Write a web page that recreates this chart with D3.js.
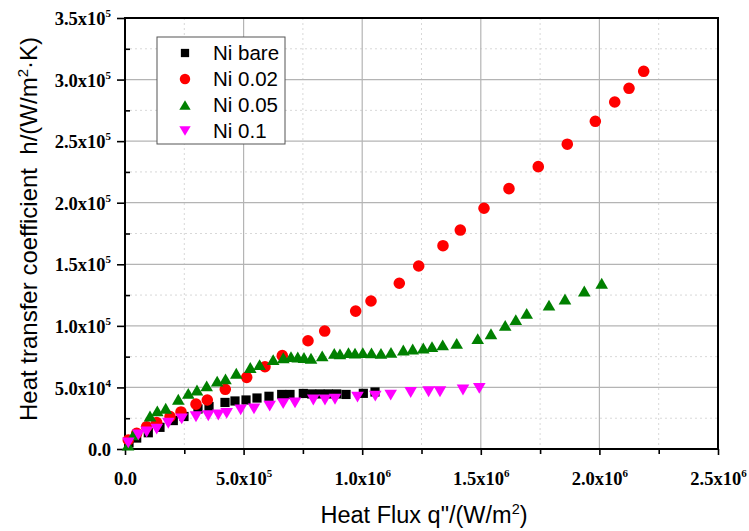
<!DOCTYPE html>
<html><head><meta charset="utf-8">
<script src="https://cdn.jsdelivr.net/npm/d3@7"></script>
<style>body{margin:0;background:#fff}</style>
</head><body>
<svg id="c" width="749" height="531"></svg>
<script>
const seriesNames = ["Ni bare", "Ni 0.02", "Ni 0.05", "Ni 0.1"];
const seriesColors = ["#000000", "#ff0000", "#008000", "#ff00ff"];

const qNiBare = [1.69e4,4.93e4,9.82e4,1.475e5,2.036e5,2.487e5,3.077e5,3.542e5,4.216e5,4.637e5,5.102e5,5.565e5,6.07e5,6.606e5,6.956e5,7.517e5,7.871e5,8.221e5,8.571e5,8.925e5,9.317e5,1.0047e6,1.054e6];
const hNiBare = [4.9e3,8.9e3,1.32e4,1.76e4,2.31e4,2.64e4,3.25e4,3.45e4,3.78e4,3.9e4,3.98e4,4.14e4,4.28e4,4.43e4,4.43e4,4.51e4,4.47e4,4.47e4,4.47e4,4.47e4,4.43e4,4.52e4,4.63e4];

const qNi002 = [1.39e4,4.93e4,9.14e4,1.337e5,1.898e5,2.361e5,2.993e5,3.469e5,4.228e5,5.131e5,5.901e5,6.631e5,7.715e5,8.419e5,9.725e5,1.0371e6,1.1564e6,1.2382e6,1.3406e6,1.4136e6,1.5135e6,1.6188e6,1.7423e6,1.8646e6,1.9828e6,2.0646e6,2.1249e6,2.1868e6];
const hNi002 = [7.3e3,1.27e4,1.81e4,2.14e4,2.63e4,3.01e4,3.64e4,3.98e4,4.85e4,5.82e4,6.68e4,7.58e4,8.79e4,9.58e4,1.12e5,1.202e5,1.346e5,1.486e5,1.651e5,1.778e5,1.955e5,2.114e5,2.293e5,2.475e5,2.661e5,2.818e5,2.929e5,3.067e5];

const qNi005 = [1.27e4,3.5e4,1.054e5,1.362e5,1.716e5,2.247e5,2.668e5,3.035e5,3.444e5,3.886e5,4.237e5,4.692e5,5.282e5,5.674e5,6.247e5,6.675e5,6.998e5,7.284e5,7.546e5,7.841e5,8.314e5,8.823e5,9.063e5,9.422e5,9.697e5,1.0025e6,1.0392e6,1.0792e6,1.1214e6,1.1733e6,1.2129e6,1.2575e6,1.2943e6,1.3393e6,1.3984e6,1.487e6,1.5429e6,1.6029e6,1.6476e6,1.6935e6,1.7875e6,1.8549e6,1.9363e6,2.0097e6];
const hNi005 = [3.2e3,1.14e4,2.68e4,3.09e4,3.31e4,4.04e4,4.52e4,4.79e4,5.12e4,5.52e4,5.7e4,6.15e4,6.62e4,6.85e4,7.26e4,7.41e4,7.5e4,7.47e4,7.43e4,7.37e4,7.57e4,7.77e4,7.73e4,7.82e4,7.79e4,7.82e4,7.8e4,7.77e4,7.85e4,8.04e4,8.12e4,8.2e4,8.31e4,8.45e4,8.58e4,8.96e4,9.36e4,1.004e5,1.051e5,1.102e5,1.169e5,1.218e5,1.283e5,1.346e5];

const qNi01 = [1.39e4,5.61e4,9.14e4,1.337e5,1.825e5,2.39e5,2.993e5,3.511e5,3.934e5,4.287e5,4.877e5,5.438e5,6.1e5,6.669e5,7.167e5,7.939e5,8.431e5,8.853e5,9.802e5,1.0552e6,1.1201e6,1.2044e6,1.2799e6,1.328e6,1.4249e6,1.4937e6];
const hNi01 = [4.9e3,1.14e4,1.38e4,1.62e4,2.09e4,2.44e4,2.62e4,2.7e4,2.76e4,2.9e4,3.17e4,3.26e4,3.48e4,3.69e4,3.74e4,3.98e4,3.98e4,4.04e4,4.22e4,4.3e4,4.37e4,4.59e4,4.65e4,4.65e4,4.79e4,4.93e4];

const xTickValues = [0, 5e5, 1e6, 1.5e6, 2e6, 2.5e6];
const xTickLabels = ["0.0", "5.0x10^5", "1.0x10^6", "1.5x10^6", "2.0x10^6", "2.5x10^6"];
const yTickValues = [0, 5e4, 1e5, 1.5e5, 2e5, 2.5e5, 3e5, 3.5e5];
const yTickLabels = ["0.0", "5.0x10^4", "1.0x10^5", "1.5x10^5", "2.0x10^5", "2.5x10^5", "3.0x10^5", "3.5x10^5"];
const xMinorValues = [2.5e5, 7.5e5, 1.25e6, 1.75e6, 2.25e6];
const yMinorValues = [2.5e4, 7.5e4, 1.25e5, 1.75e5, 2.25e5, 2.75e5, 3.25e5];

const series = [
  {name: seriesNames[0], q: qNiBare, h: hNiBare, color: seriesColors[0], shape: "square"},
  {name: seriesNames[1], q: qNi002, h: hNi002, color: seriesColors[1], shape: "circle"},
  {name: seriesNames[2], q: qNi005, h: hNi005, color: seriesColors[2], shape: "up"},
  {name: seriesNames[3], q: qNi01, h: hNi01, color: seriesColors[3], shape: "down"}
];

const L = 125, R = 718, T = 18, B = 449;
const x = d3.scaleLinear().domain([0, 2.5e6]).range([L, R]);
const y = d3.scaleLinear().domain([0, 3.5e5]).range([B, T]);
const svg = d3.select("#c");
svg.append("rect").attr("width", 749).attr("height", 531).attr("fill", "#fff");

// grid
const grid = svg.append("g");
grid.selectAll(".vmin").data(xMinorValues).enter().append("line")
  .attr("x1", d => x(d)).attr("x2", d => x(d)).attr("y1", T).attr("y2", B)
  .attr("stroke", "#d8d8d8").attr("stroke-dasharray", "2,3").attr("stroke-width", 1);
grid.selectAll(".hmin").data(yMinorValues).enter().append("line")
  .attr("y1", d => y(d)).attr("y2", d => y(d)).attr("x1", L).attr("x2", R)
  .attr("stroke", "#d8d8d8").attr("stroke-dasharray", "2,3").attr("stroke-width", 1);
grid.selectAll(".vmaj").data(xTickValues.slice(1, -1)).enter().append("line")
  .attr("x1", d => x(d)).attr("x2", d => x(d)).attr("y1", T).attr("y2", B)
  .attr("stroke", "#b4b4b4").attr("stroke-width", 1.2);
grid.selectAll(".hmaj").data(yTickValues.slice(1, -1)).enter().append("line")
  .attr("y1", d => y(d)).attr("y2", d => y(d)).attr("x1", L).attr("x2", R)
  .attr("stroke", "#b4b4b4").attr("stroke-width", 1.2);

function labelTspans(sel, lab) {
  const parts = lab.split("^");
  sel.text(null);
  sel.append("tspan").text(parts[0]);
  if (parts[1]) sel.append("tspan").attr("dy", -8).attr("font-size", 11).text(parts[1]);
}

// x axis
const xAxis = d3.axisBottom(x).tickValues(xTickValues).tickSize(6).tickSizeOuter(0).tickPadding(4);
const gx = svg.append("g").attr("transform", `translate(0,${B})`).call(xAxis);
gx.select(".domain").attr("stroke-width", 2).attr("d", `M${L - 1},0H${R + 1}`);
gx.selectAll(".tick line").attr("stroke-width", 1.6);
gx.selectAll(".tick text").attr("font-family", "Liberation Serif, Times New Roman, serif")
  .attr("font-weight", "bold").attr("font-size", 18.5).attr("fill", "#000").attr("dy", 0).attr("y", 36)
  .each(function(d, i) { labelTspans(d3.select(this), xTickLabels[i]); });
const gxm = svg.append("g").attr("transform", `translate(0,${B})`)
  .call(d3.axisBottom(x).tickValues(xMinorValues).tickSize(5).tickSizeOuter(0).tickFormat(""));
gxm.select(".domain").remove();
gxm.selectAll(".tick line").attr("stroke-width", 1.6);

// y axis
const yAxis = d3.axisLeft(y).tickValues(yTickValues).tickSize(8).tickSizeOuter(0).tickPadding(6);
const gy = svg.append("g").attr("transform", `translate(${L},0)`).call(yAxis);
gy.select(".domain").attr("stroke-width", 2).attr("d", `M0,${T - 1}V${B + 1}`);
gy.selectAll(".tick line").attr("stroke-width", 1.6);
gy.selectAll(".tick text").attr("font-family", "Liberation Serif, Times New Roman, serif")
  .attr("font-weight", "bold").attr("font-size", 18.5).attr("fill", "#000").attr("dy", "0.36em")
  .each(function(d, i) { labelTspans(d3.select(this), yTickLabels[i]); });
const gym = svg.append("g").attr("transform", `translate(${L},0)`)
  .call(d3.axisRight(y).tickValues(yMinorValues).tickSize(5).tickSizeOuter(0).tickFormat(""));
gym.select(".domain").remove();
gym.selectAll(".tick line").attr("stroke-width", 1.6);

// top & right frame
svg.append("line").attr("x1", L - 1).attr("x2", R + 1).attr("y1", T).attr("y2", T).attr("stroke", "#000").attr("stroke-width", 2);
svg.append("line").attr("x1", R).attr("x2", R).attr("y1", T - 1).attr("y2", B + 1).attr("stroke", "#000").attr("stroke-width", 2);

// symbols
function symPath(shape, s) {
  if (shape === "square") { const a = 4.6 * s; return `M${-a},${-a}H${a}V${a}H${-a}Z`; }
  if (shape === "circle") { const r = 5.8 * s; return `M${r},0A${r},${r} 0 1,1 ${-r},0A${r},${r} 0 1,1 ${r},0Z`; }
  const w = 6.3 * s, hh = 5.4 * s;
  if (shape === "up") return `M0,${-hh}L${w},${hh}L${-w},${hh}Z`;
  return `M0,${hh}L${w},${-hh}L${-w},${-hh}Z`;
}

const marks = svg.append("g");
series.forEach(s => {
  marks.append("g").selectAll("path").data(s.q.map((q, i) => [q, s.h[i]])).enter().append("path")
    .attr("transform", d => `translate(${x(d[0])},${y(d[1])})`)
    .attr("d", symPath(s.shape, 1)).attr("fill", s.color);
});

// legend
const lg = svg.append("g");
lg.append("rect").attr("x", 157).attr("y", 37).attr("width", 128).attr("height", 107)
  .attr("fill", "#fff").attr("stroke", "#555").attr("stroke-width", 1);
const rowY = d3.scalePoint().domain(seriesNames).range([53, 131]);
series.forEach(s => {
  lg.append("path").attr("transform", `translate(185,${rowY(s.name)})`)
    .attr("d", symPath(s.shape, 0.9)).attr("fill", s.color);
  lg.append("text").attr("x", 213).attr("y", rowY(s.name)).attr("dy", "0.36em")
    .attr("font-family", "Liberation Sans, Arial, sans-serif").attr("font-size", 20.5).attr("fill", "#000")
    .text(s.name);
});

// axis titles
const xt = svg.append("text").attr("x", 424).attr("y", 523).attr("text-anchor", "middle")
  .attr("font-family", "Liberation Sans, Arial, sans-serif").attr("font-size", 23.5).attr("fill", "#000");
xt.append("tspan").text("Heat Flux q\"/(W/m");
xt.append("tspan").attr("dy", -9).attr("font-size", 14.5).text("2");
xt.append("tspan").attr("dy", 9).text(")");

const yt = svg.append("text").attr("transform", `translate(37,229) rotate(-90)`).attr("text-anchor", "middle")
  .attr("font-family", "Liberation Sans, Arial, sans-serif").attr("font-size", 24).attr("fill", "#000");
yt.append("tspan").text("Heat transfer coefficient\u00a0 h/(W/m");
yt.append("tspan").attr("dy", -9).attr("font-size", 15).text("2");
yt.append("tspan").attr("dy", 9).text("·K)");
</script>
</body></html>
